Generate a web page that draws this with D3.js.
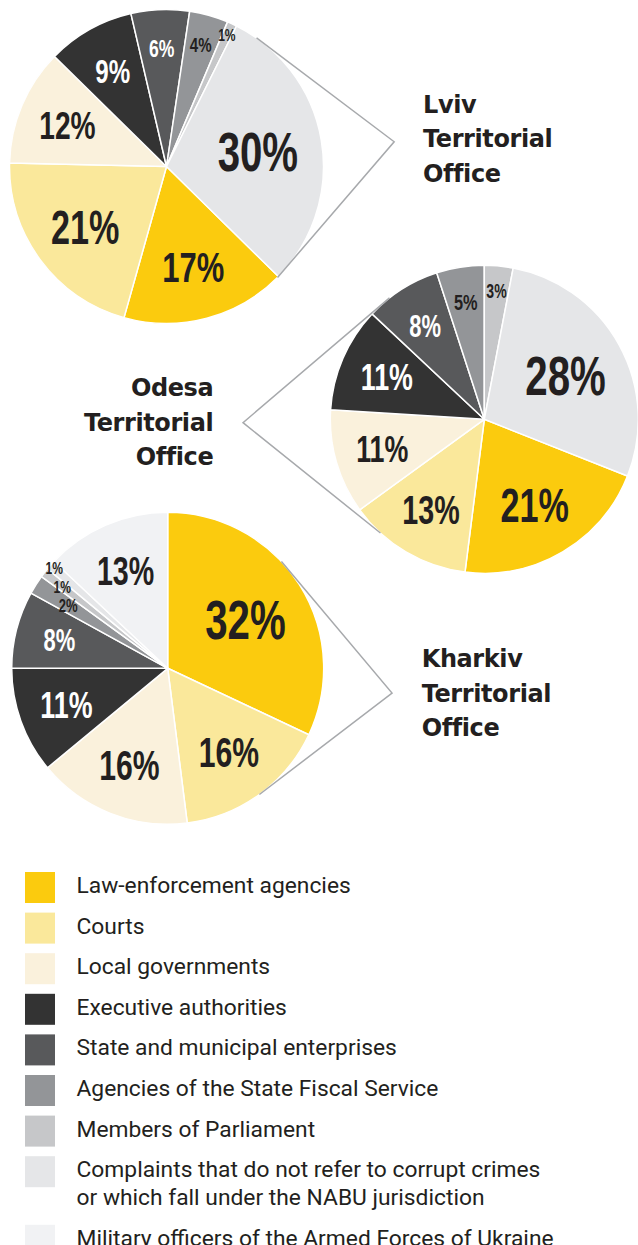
<!DOCTYPE html>
<html>
<head>
<meta charset="utf-8">
<script src="https://cdn.jsdelivr.net/npm/d3@7"></script>
<style>
  html, body { margin: 0; padding: 0; background: #fff; }
  svg { display: block; }
</style>
</head>
<body>
<svg id="chart" width="638" height="1245"></svg>
<script>
// Complaint categories (legend order, also the slice order of every pie)
const categories = [
  "Law-enforcement agencies",
  "Courts",
  "Local governments",
  "Executive authorities",
  "State and municipal enterprises",
  "Agencies of the State Fiscal Service",
  "Members of Parliament",
  "Complaints that do not refer to corrupt crimes\nor which fall under the NABU jurisdiction",
  "Military officers of the Armed Forces of Ukraine"
];

// Office names
const offices = ["Lviv Territorial Office", "Odesa Territorial Office", "Kharkiv Territorial Office"];

// Shares of complaints, %, per office (same order as categories)
const lvivValues    = [17, 21, 12, 9, 6, 4, 1, 30, 0];
const odesaValues   = [21, 13, 11, 11, 8, 5, 3, 28, 0];
const kharkivValues = [32, 16, 16, 11, 8, 2, 1, 1, 13];

const categoryColors = ["#fbcb0e", "#fae89b", "#faf1dc", "#333333", "#58595b",
                        "#939598", "#c6c7c9", "#e5e6e8", "#f1f2f4"];
const whiteLabelCategories = [3, 4];

// Placement of each pie, its callout chevron and its title
const pieLayout = [
  { cx: 166.5, cy: 166.5, r: 157, start: 134.5,
    callout: { a1: 35, a2: 135, apexAngle: 83.8, apexDist: 229 },
    title: { x: 423, y: 112.7, anchor: "start" } },
  { cx: 484.3, cy: 419.3, r: 154, start: 111.6,
    callout: { a1: 322, a2: 222.4, apexAngle: 269.2, apexDist: 241.3 },
    title: { x: 213.3, y: 396, anchor: "end" } },
  { cx: 167.7, cy: 668.3, r: 156, start: 0,
    callout: { a1: 46.8, a2: 144, apexAngle: 96.3, apexDist: 225.7 },
    title: { x: 421.7, y: 667, anchor: "start" } }
];

const seriesValues = [lvivValues, odesaValues, kharkivValues];
const svg = d3.select("#chart");
const rad = d => d * Math.PI / 180;

const color = d3.scaleOrdinal().domain(d3.range(categories.length)).range(categoryColors);
// label cap height grows with the share
const capScale = d3.scaleLinear()
  .domain([1, 4, 6, 9, 12, 16, 21, 28])
  .range([12, 15, 17.5, 24, 28, 30, 34, 40]).clamp(true);
// thinner slices get their label nearer the rim
const radiusRatio = d3.scaleLinear()
  .domain([1, 3, 5, 9, 13, 20, 30])
  .range([0.92, 0.84, 0.77, 0.7, 0.68, 0.65, 0.59]).clamp(true);

const LABEL_FONT = "'Liberation Sans', Arial, sans-serif";
const NARROW = 0.72;      // horizontal squeeze giving condensed percentage labels
const CAP = 0.716;        // cap height / font size

seriesValues.forEach((values, pi) => {
  const L = pieLayout[pi];
  const data = values.map((v, i) => ({ value: v, cat: i }));
  const pie = d3.pie().sort(null).value(d => d.value)
    .startAngle(rad(L.start)).endAngle(rad(L.start) + 2 * Math.PI);
  const arcs = pie(data).filter(a => a.data.value > 0);
  const arc = d3.arc().innerRadius(0).outerRadius(L.r);

  const g = svg.append("g").attr("transform", `translate(${L.cx},${L.cy})`);

  g.selectAll("path.slice").data(arcs).join("path")
    .attr("class", "slice")
    .attr("d", arc)
    .attr("fill", d => color(d.data.cat))
    .attr("stroke", "#fff")
    .attr("stroke-width", 1.5)
    .attr("stroke-linejoin", "round");

  // label placement
  const labels = arcs.map(a => {
    const v = a.data.value;
    const cap = capScale(v);
    const text = v + "%";
    return {
      a, text, cap,
      mid: (a.startAngle + a.endAngle) / 2,
      k: radiusRatio(v),
      w: cap / CAP * (0.556 * (text.length - 1) + 0.889) * NARROW
    };
  });
  const place = l => {
    l.x = Math.sin(l.mid) * L.r * l.k;
    l.y = -Math.cos(l.mid) * L.r * l.k;
  };
  labels.forEach(place);
  const overlap = (p, q) =>
    Math.abs(p.x - q.x) < (p.w + q.w) / 2 + 1 &&
    Math.abs(p.y - q.y) < (p.cap + q.cap) / 2 + 6;
  // spread neighbouring labels of thin slices radially
  for (let it = 0; it < 200; it++) {
    let moved = false;
    for (let i = 1; i < labels.length; i++) {
      const p = labels[i - 1], q = labels[i];
      if (overlap(p, q)) {
        p.k = Math.max(0.5, p.k - 0.005);
        q.k = Math.min(0.97, q.k + 0.005);
        place(p); place(q);
        moved = true;
      }
    }
    if (!moved) break;
  }

  g.selectAll("text.pct").data(labels).join("text")
    .attr("class", "pct")
    .attr("transform", d => `translate(${d.x},${d.y + d.cap / 2}) scale(${NARROW},1)`)
    .attr("text-anchor", "middle")
    .attr("font-family", LABEL_FONT)
    .attr("font-weight", 700)
    .attr("font-size", d => d.cap / CAP)
    .attr("fill", d => whiteLabelCategories.includes(d.a.data.cat) ? "#ffffff" : "#231f20")
    .text(d => d.text);

  // chevron pointing from the pie to its title
  const C = L.callout;
  const pt = (ang, dist) => [Math.sin(rad(ang)) * dist, -Math.cos(rad(ang)) * dist];
  g.append("path")
    .attr("d", d3.line()([pt(C.a1, L.r), pt(C.apexAngle, C.apexDist), pt(C.a2, L.r)]))
    .attr("fill", "none")
    .attr("stroke", "#a7a9ac")
    .attr("stroke-width", 1.5);

  // office title
  const T = L.title;
  const words = offices[pi].split(" ");
  svg.append("text")
    .attr("x", T.x).attr("y", T.y)
    .attr("text-anchor", T.anchor)
    .attr("font-family", "'DejaVu Sans', sans-serif")
    .attr("font-weight", 700)
    .attr("font-size", 24)
    .attr("letter-spacing", -0.4)
    .attr("fill", "#231f20")
    .selectAll("tspan").data(words).join("tspan")
    .attr("x", T.x)
    .attr("dy", (d, i) => i === 0 ? 0 : 34.5)
    .text(d => d);
});

// legend
const legend = svg.append("g").attr("class", "legend");
let y = 872;
categories.forEach((name, i) => {
  const lines = name.split("\n");
  legend.append("rect")
    .attr("x", 25).attr("y", y).attr("width", 30).attr("height", 31)
    .attr("fill", color(i));
  const t = legend.append("text")
    .attr("x", 76.5).attr("y", y + 21)
    .attr("font-family", "Roboto, 'Open Sans', sans-serif")
    .attr("font-weight", 400)
    .attr("font-size", 22.8)
    .attr("fill", "#231f20");
  lines.forEach((ln, j) => {
    t.append("tspan").attr("x", 76.5).attr("dy", j === 0 ? 0 : 28).text(ln);
  });
  y += 40.6 + 28 * (lines.length - 1);
});
</script>
</body>
</html>
